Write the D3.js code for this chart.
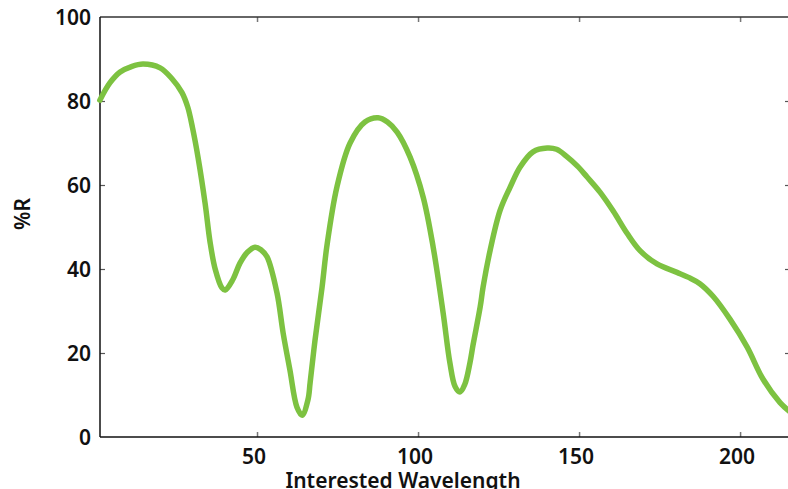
<!DOCTYPE html>
<html>
<head>
<meta charset="utf-8">
<script src="https://cdn.jsdelivr.net/npm/d3@7"></script>
<style>
    body { margin: 0; background: #fff; overflow: hidden; }
    text { font-family: "Noto Sans", sans-serif; font-weight: 600; fill: #111; }
</style>
</head>
<body>
<svg id="chart" width="788" height="489"></svg>
<script>
// wavelength values (x) and %R values (y)
const wavelength = [1.2, 4.3, 7.5, 11, 14.6, 19.9, 23.6, 26.7, 28.5, 30, 31.7, 33.9, 35.4, 37, 39.1, 40.1,
    42.5, 44.7, 47, 49.4, 51.2, 53.1, 56.2, 58.1, 60.2, 62.4, 64, 65.8, 66.5, 68, 70.2, 71.7, 74.8,
    78.9, 83.5, 87.6, 90.5, 93.5, 97.5, 101.6, 104.7, 107.8, 109.9, 111.5, 113, 114.5, 116.1, 117.1,
    119.3, 120.2, 122.4, 125.5, 128.6, 131.7, 135.7, 140.1, 143, 146.3, 149.5, 152.5, 156.5, 160.6,
    164.9, 169, 174.2, 180.4, 184, 187.5, 191.6, 196.9, 202.2, 207.1, 212.4, 215.5];
const reflect = [80.2, 84.3, 86.9, 88.2, 88.8, 87.9, 85.3, 82, 78.5, 73.5, 66.5, 55.5, 46.5, 40, 35.5, 35,
    37.5, 41.4, 44, 45.2, 44.6, 42.9, 34.3, 24.8, 16, 7.1, 5.2, 8.8, 13, 23, 35.7, 45.5, 59.5,
    70, 75, 76, 75, 72.6, 66.7, 57.1, 45.2, 29.5, 17.6, 12, 10.7, 12.5, 17.6, 22,
    31, 35.7, 44.5, 54, 59.5, 64.3, 67.9, 68.8, 68.5, 66.7, 64.5, 61.9, 58.3, 53.8,
    48.5, 44.3, 41.2, 39.2, 38, 36.5, 33.5, 28, 21.4, 13.8, 8.2, 6];
const xTicks = [50, 100, 150, 200];
const yTicks = [0, 20, 40, 60, 80, 100];

const plotLeft = 100, plotRight = 790, plotTop = 17, plotBottom = 437;

const svg = d3.select("#chart");
const xScale = d3.scaleLinear().domain([1.24, 215.5]).range([plotLeft, plotRight]);
const yScale = d3.scaleLinear().domain([0, 100]).range([plotBottom, plotTop]);

const sample = wavelength.map((w, i) => ({ w: w, r: reflect[i] }));

// inner ticks, all four sides
svg.append("g")
    .attr("transform", `translate(0, ${plotBottom})`)
    .call(d3.axisTop(xScale).tickValues(xTicks).tickSize(5).tickFormat(""))
    .call(g => g.select(".domain").remove())
    .selectAll("line").attr("stroke", "#777").attr("stroke-width", 1.5);
svg.append("g")
    .attr("transform", `translate(0, ${plotTop})`)
    .call(d3.axisBottom(xScale).tickValues(xTicks).tickSize(5).tickFormat(""))
    .call(g => g.select(".domain").remove())
    .selectAll("line").attr("stroke", "#777").attr("stroke-width", 1.5);
svg.append("g")
    .attr("transform", `translate(${plotLeft}, 0)`)
    .call(d3.axisRight(yScale).tickValues([20, 40, 60, 80]).tickSize(5).tickFormat(""))
    .call(g => g.select(".domain").remove())
    .selectAll("line").attr("stroke", "#555").attr("stroke-width", 1.2);
svg.append("g")
    .attr("transform", `translate(${plotRight}, 0)`)
    .call(d3.axisLeft(yScale).tickValues([20, 40, 60, 80]).tickSize(5).tickFormat(""))
    .call(g => g.select(".domain").remove())
    .selectAll("line").attr("stroke", "#555").attr("stroke-width", 1.2);

// frame
svg.append("line").attr("x1", plotLeft).attr("x2", plotRight).attr("y1", plotTop).attr("y2", plotTop)
    .attr("stroke", "#333").attr("stroke-width", 1.5);
svg.append("line").attr("x1", plotLeft).attr("x2", plotRight).attr("y1", plotBottom).attr("y2", plotBottom)
    .attr("stroke", "#111").attr("stroke-width", 1.5);
svg.append("line").attr("x1", plotLeft).attr("x2", plotLeft).attr("y1", plotTop).attr("y2", plotBottom)
    .attr("stroke", "#111").attr("stroke-width", 1.5);

// tick labels
svg.selectAll(".ylab")
    .data(yTicks)
    .enter()
    .append("text")
    .attr("class", "ylab")
    .attr("x", 91)
    .attr("y", d => yScale(d))
    .attr("dy", "0.36em")
    .attr("text-anchor", "end")
    .style("font-size", "21px")
    .text(d => d);
svg.selectAll(".xlab")
    .data(xTicks)
    .enter()
    .append("text")
    .attr("class", "xlab")
    .attr("x", d => xScale(d) - 3)
    .attr("y", 464)
    .attr("text-anchor", "middle")
    .style("font-size", "21px")
    .text(d => d);

// axis titles
svg.append("text")
    .attr("x", 403)
    .attr("y", 488)
    .attr("text-anchor", "middle")
    .style("font-size", "21px")
    .text("Interested Wavelength");
svg.append("text")
    .attr("transform", "translate(30, 214) rotate(-90)")
    .attr("text-anchor", "middle")
    .style("font-size", "21px")
    .text("%R");

// the curve
const line = d3.line()
    .x(d => xScale(d.w))
    .y(d => yScale(d.r))
    .curve(d3.curveCatmullRom);
svg.append("path")
    .datum(sample)
    .attr("d", line)
    .attr("fill", "none")
    .attr("stroke", "#7dc241")
    .attr("stroke-width", 5.5)
    .attr("stroke-linecap", "round");
</script>
</body>
</html>
